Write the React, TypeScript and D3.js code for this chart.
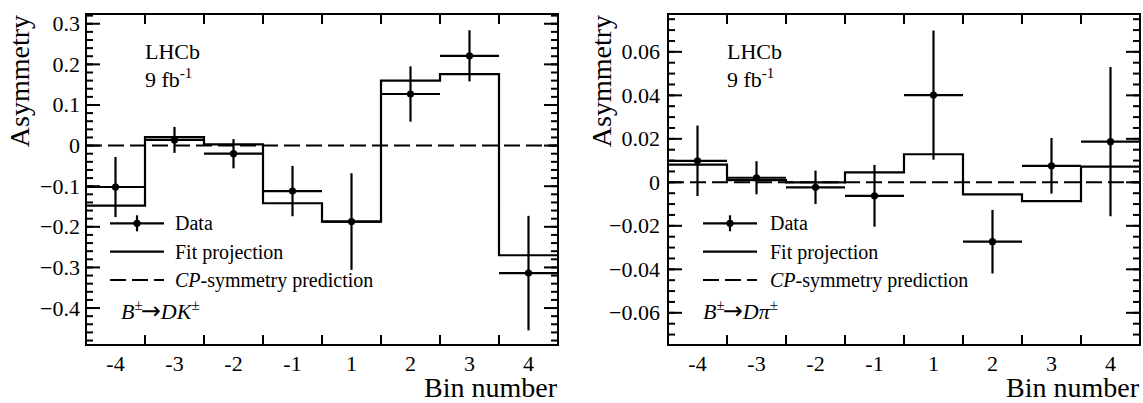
import React from "react";
import * as d3 from "d3";

const bins = ["-4", "-3", "-2", "-1", "1", "2", "3", "4"];

// B± → DK±
const dataK = [-0.102, 0.014, -0.020, -0.112, -0.187, 0.127, 0.221, -0.314];
const errK = [0.074, 0.032, 0.036, 0.062, 0.119, 0.068, 0.063, 0.141];
const fitK = [-0.148, 0.021, 0.003, -0.142, -0.187, 0.160, 0.176, -0.270];
const majorK = [-0.4, -0.3, -0.2, -0.1, 0, 0.1, 0.2, 0.3];
const majorLabelsK = ["\u22120.4", "\u22120.3", "\u22120.2", "\u22120.1", "0", "0.1", "0.2", "0.3"];

// B± → Dπ±
const dataPi = [0.0099, 0.0021, -0.0023, -0.0062, 0.0401, -0.0273, 0.0076, 0.0187];
const errPi = [0.0162, 0.0076, 0.0077, 0.0142, 0.0297, 0.0146, 0.0128, 0.0343];
const fitPi = [0.0081, 0.0010, 0.0, 0.0046, 0.0129, -0.0055, -0.0086, 0.0072];
const majorPi = [-0.06, -0.04, -0.02, 0, 0.02, 0.04, 0.06];
const majorLabelsPi = ["\u22120.06", "\u22120.04", "\u22120.02", "0", "0.02", "0.04", "0.06"];

const FONT = "'Liberation Serif', 'DejaVu Serif', serif";

type PanelProps = {
  x0: number;
  labelGap: number;
  titleX: number;
  yDomain: [number, number];
  major: number[];
  majorLabels: string[];
  minorStep: number;
  vals: number[];
  errs: number[];
  fit: number[];
  legendX: number;
  legendTextX: number;
  decay: React.ReactNode;
};

function Panel(p: PanelProps) {
  const W = 472;
  const y0 = 14;
  const y1 = 345;
  const x1 = p.x0 + W;
  const x = d3.scaleLinear().domain([0, 8]).range([p.x0, x1]);
  const y = d3.scaleLinear().domain(p.yDomain).range([y1, y0]);

  const minor: number[] = [];
  const nMin = Math.ceil(p.yDomain[0] / p.minorStep - 1e-9);
  const nMax = Math.floor(p.yDomain[1] / p.minorStep + 1e-9);
  for (let i = nMin; i <= nMax; i++) minor.push(i * p.minorStep);

  const edges = d3.range(1, 8);
  const fitPts: [number, number][] = p.fit.map((v, i) => [i, v] as [number, number]);
  fitPts.push([8, p.fit[p.fit.length - 1]]);
  const stepLine = d3
    .line<[number, number]>()
    .x((d) => x(d[0]))
    .y((d) => y(d[1]))
    .curve(d3.curveStepAfter);

  const sw = 2.2;
  const rows = [223.3, 251.7, 280];

  return (
    <g fontFamily={FONT} fill="#000">
      {/* zero line */}
      <line x1={p.x0} x2={x1} y1={y(0)} y2={y(0)} stroke="#000" strokeWidth={2} strokeDasharray="16 6" />
      {/* fit projection */}
      <path d={stepLine(fitPts) || ""} fill="none" stroke="#000" strokeWidth={sw} />
      {/* data */}
      {p.vals.map((v, i) => (
        <g key={i}>
          <line x1={x(i)} x2={x(i + 1)} y1={y(v)} y2={y(v)} stroke="#000" strokeWidth={sw} />
          <line x1={x(i + 0.5)} x2={x(i + 0.5)} y1={y(v + p.errs[i])} y2={y(v - p.errs[i])} stroke="#000" strokeWidth={sw} />
          <circle cx={x(i + 0.5)} cy={y(v)} r={3.6} fill="#000" />
        </g>
      ))}
      {/* frame */}
      <rect x={p.x0} y={y0} width={W} height={y1 - y0} fill="none" stroke="#000" strokeWidth={2} />
      {/* y ticks */}
      {minor.map((t, i) => (
        <g key={"mn" + i}>
          <line x1={p.x0} x2={p.x0 + 7} y1={y(t)} y2={y(t)} stroke="#000" strokeWidth={2} />
          <line x1={x1} x2={x1 - 7} y1={y(t)} y2={y(t)} stroke="#000" strokeWidth={2} />
        </g>
      ))}
      {p.major.map((t, i) => (
        <g key={"mj" + i}>
          <line x1={p.x0} x2={p.x0 + 14} y1={y(t)} y2={y(t)} stroke="#000" strokeWidth={2} />
          <line x1={x1} x2={x1 - 14} y1={y(t)} y2={y(t)} stroke="#000" strokeWidth={2} />
          <text x={p.x0 - p.labelGap} y={y(t) + 7.5} textAnchor="end" fontSize={22}>
            {p.majorLabels[i]}
          </text>
        </g>
      ))}
      {/* x ticks at bin edges */}
      {edges.map((e) => (
        <g key={"xe" + e}>
          <line x1={x(e)} x2={x(e)} y1={y1} y2={y1 - 10} stroke="#000" strokeWidth={2} />
          <line x1={x(e)} x2={x(e)} y1={y0} y2={y0 + 10} stroke="#000" strokeWidth={2} />
        </g>
      ))}
      {bins.map((b, i) => (
        <text key={"xl" + i} x={x(i + 0.5)} y={371} textAnchor="middle" fontSize={22}>
          {b}
        </text>
      ))}
      {/* axis titles */}
      <text x={x1 - 1} y={397} textAnchor="end" fontSize={28}>
        Bin number
      </text>
      <text transform={`translate(${p.titleX},15) rotate(-90)`} textAnchor="end" fontSize={28}>
        Asymmetry
      </text>
      {/* LHCb label */}
      <text x={p.x0 + 59} y={59} fontSize={22}>
        LHCb
      </text>
      <text x={p.x0 + 59} y={87} fontSize={22}>
        9 fb
        <tspan fontSize={15} dy={-9}>
          -1
        </tspan>
      </text>
      {/* legend */}
      <line x1={p.legendX} x2={p.legendX + 54} y1={rows[0]} y2={rows[0]} stroke="#000" strokeWidth={sw} />
      <line x1={p.legendX + 27} x2={p.legendX + 27} y1={rows[0] - 8} y2={rows[0] + 8} stroke="#000" strokeWidth={sw} />
      <circle cx={p.legendX + 27} cy={rows[0]} r={3.6} fill="#000" />
      <text x={p.legendTextX} y={rows[0] + 7} fontSize={20}>
        Data
      </text>
      <line x1={p.legendX} x2={p.legendX + 54} y1={rows[1]} y2={rows[1]} stroke="#000" strokeWidth={sw} />
      <text x={p.legendTextX} y={rows[1] + 7} fontSize={20}>
        Fit projection
      </text>
      <line x1={p.legendX} x2={p.legendX + 54} y1={rows[2]} y2={rows[2]} stroke="#000" strokeWidth={2} strokeDasharray="16 6" />
      <text x={p.legendTextX} y={rows[2] + 7} fontSize={20}>
        <tspan fontStyle="italic">CP</tspan>-symmetry prediction
      </text>
      {p.decay}
    </g>
  );
}

function Decay({ x, meson }: { x: number; meson: string }) {
  return (
    <text x={x} y={319} fontSize={22} fontFamily={FONT}>
      <tspan fontStyle="italic">B</tspan>
      <tspan fontSize={15} dy={-9}>
        ±
      </tspan>
      <tspan dy={9} fontFamily="'DejaVu Sans', sans-serif" fontSize={24} dx={-2}>
        →
      </tspan>
      <tspan fontStyle="italic">D{meson}</tspan>
      <tspan fontSize={15} dy={-9}>
        ±
      </tspan>
    </text>
  );
}

export default function App() {
  return (
    <svg
      width={1143}
      height={403}
      style={{ position: "absolute", left: 0, top: 0, background: "#fff" }}
    >
      <rect width={1143} height={403} fill="#fff" />
      <Panel
        x0={86}
        labelGap={6}
        titleX={28.5}
        yDomain={[-0.491, 0.324]}
        major={majorK}
        majorLabels={majorLabelsK}
        minorStep={0.02}
        vals={dataK}
        errs={errK}
        fit={fitK}
        legendX={110}
        legendTextX={175}
        decay={<Decay x={121} meson="K" />}
      />
      <Panel
        x0={668}
        labelGap={8}
        titleX={611}
        yDomain={[-0.0748, 0.0774]}
        major={majorPi}
        majorLabels={majorLabelsPi}
        minorStep={0.005}
        vals={dataPi}
        errs={errPi}
        fit={fitPi}
        legendX={703}
        legendTextX={770}
        decay={<Decay x={703} meson={"\u03c0"} />}
      />
    </svg>
  );
}
